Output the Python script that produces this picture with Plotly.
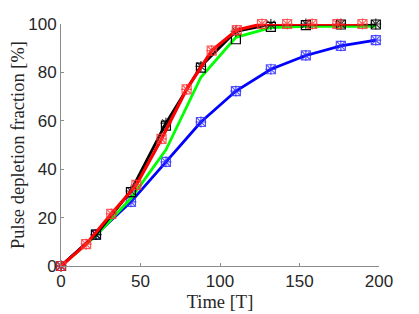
import plotly.graph_objects as go

# time grids
t22 = [0, 22, 44, 66, 88, 110, 132, 154, 176, 198]
t16 = [0, 15.8, 31.6, 47.4, 63.2, 79, 94.8, 110.6, 126.4, 142.2, 158, 173.8, 189.6]

blue_vals = [0, 13, 26.5, 43, 59.5, 72.3, 81.3, 87, 91, 93.3]
green_vals = [0, 12.5, 28, 48, 78, 94.5, 98.5, 99, 99, 99]
black_vals = [0, 13, 31, 59, 82.5, 97, 99.8, 100, 100, 100]
black_sq_vals = [0, 13, 30.5, 58, 82, 93.7, 98.8, 99.5, 99.8, 99.8]
red_vals = [0, 9, 21.5, 33.5, 52.5, 73, 89, 97.5, 100, 100, 100, 100, 100]

x_ticks = [0, 50, 100, 150, 200]
y_ticks = [0, 20, 40, 60, 80, 100]

fig = go.Figure()

def add(x, y, color, width, symbols, mcolor, opacity=1.0):
    fig.add_trace(go.Scatter(x=x, y=y, mode="lines", line=dict(color=color, width=width),
                             opacity=opacity, cliponaxis=False, showlegend=False, hoverinfo="skip"))
    for s in symbols:
        fig.add_trace(go.Scatter(x=x, y=y, mode="markers",
                                 marker=dict(symbol=s, size=9, color=mcolor,
                                             line=dict(color=mcolor, width=1.2)),
                                 opacity=opacity, cliponaxis=False, showlegend=False, hoverinfo="skip"))

add(t22, blue_vals, "#0000FF", 2.8, ["square-open", "asterisk-open"], "rgba(40,40,255,0.8)")
add(t22, green_vals, "#00FF00", 2.8, [], "#00FF00")
fig.add_trace(go.Scatter(x=t22, y=black_sq_vals, mode="markers",
                         marker=dict(symbol="square-open", size=9, color="#000000",
                                     line=dict(color="rgba(0,0,0,0.75)", width=1.2)),
                         cliponaxis=False, showlegend=False, hoverinfo="skip"))
add(t22, black_vals, "#000000", 2.8, ["asterisk-open"], "rgba(0,0,0,0.8)")
add(t16, red_vals, "#FF0000", 3.2, ["square-open", "asterisk-open"], "rgba(255,50,50,0.8)")

axis_common = dict(showline=True, linecolor="#8c8c8c", linewidth=1, ticks="inside",
                   ticklen=3, tickcolor="#8c8c8c", showgrid=False, zeroline=False,
                   tickfont=dict(family="Liberation Sans", size=17, color="#262626"),
                   mirror=False, automargin=False)

fig.update_layout(
    width=419, height=314,
    margin=dict(l=53, r=48, t=16, b=56),
    paper_bgcolor="white", plot_bgcolor="white",
    xaxis=dict(range=[0, 200], tickvals=x_ticks, ticktext=[str(v) for v in x_ticks],
               title=dict(text="Time [T]", standoff=4,
                          font=dict(family="Liberation Serif", size=18.5, color="#262626")),
               **axis_common),
    yaxis=dict(range=[0, 100], tickvals=y_ticks, ticktext=[str(v) for v in y_ticks],
               title=dict(text="Pulse depletion fraction [%]", standoff=6,
                          font=dict(family="Liberation Serif", size=18.5, color="#262626")),
               **axis_common),
)

fig.write_html("out.html")
